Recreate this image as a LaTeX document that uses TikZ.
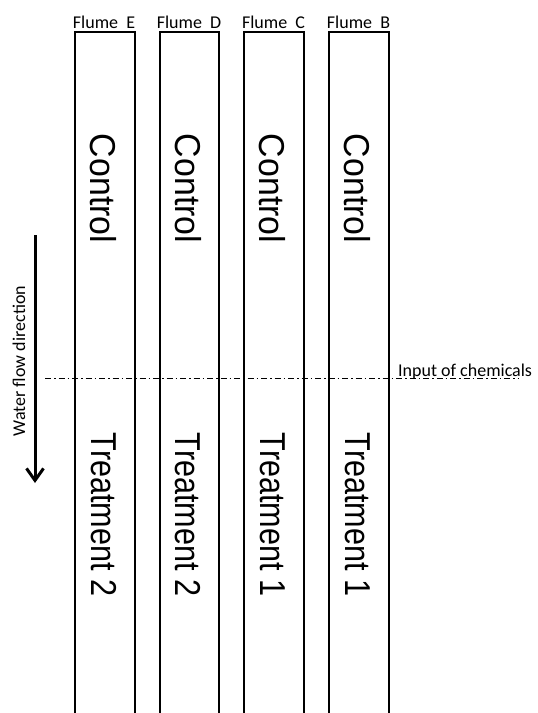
\documentclass[tikz,border=0pt]{standalone}
\usepackage{fontspec}
\usepackage{graphicx}
\setmainfont{Carlito}
\newfontfamily\bigfont{Liberation Sans}
\usetikzlibrary{arrows.meta}
\begin{document}
\begin{tikzpicture}[x=1pt,y=-1pt,
  flume/.style={line width=2pt},
  lbl/.style={font=\fontsize{18}{20}\selectfont, inner sep=0pt, anchor=base},
  big/.style={font=\bigfont\fontsize{36}{40}\selectfont, inner sep=0pt, rotate=-90},
  dashdot/.style={line width=1pt, dash pattern=on 6pt off 3pt on 1.5pt off 3pt}]
\useasboundingbox (0,0) rectangle (538,713);
\fill[white] (0,0) rectangle (538,713);
% flumes
\draw[flume] (75,720) -- (75,32) -- (134.5,32) -- (134.5,720);
\draw[flume] (159.5,720) -- (159.5,32) -- (219,32) -- (219,720);
\draw[flume] (244,720) -- (244,32) -- (303.5,32) -- (303.5,720);
\draw[flume] (329,720) -- (329,32) -- (388.5,32) -- (388.5,720);
% labels
\node[lbl] (labE) at (104,28) {Flume\ \ E};
\node[lbl] (labD) at (189,28) {Flume\ \ D};
\node[lbl] (labC) at (273.5,28) {Flume\ \ C};
\node[lbl] (labB) at (358.5,28) {Flume\ \ B};
% big texts
\node[big] (ctrlE) at (103.5,188.5) {\scalebox{0.94}[1]{Control}};
\node[big] (ctrlD) at (188,188.5) {\scalebox{0.94}[1]{Control}};
\node[big] (ctrlC) at (272.5,188.5) {\scalebox{0.94}[1]{Control}};
\node[big] (ctrlB) at (357.5,188.5) {\scalebox{0.94}[1]{Control}};
\node[big] (trtE) at (103.5,514.5) {\scalebox{0.85}[1]{Treatment 2}};
\node[big] (trtD) at (188,514.5) {\scalebox{0.85}[1]{Treatment 2}};
\node[big] (trtC) at (272.5,514.5) {\scalebox{0.85}[1]{Treatment 1}};
\node[big] (trtB) at (357.5,514.5) {\scalebox{0.85}[1]{Treatment 1}};
% input line
\coordinate (dl) at (45,378);
\coordinate (dr) at (518,378);
\draw[dashdot] (dl) -- (dr);
\node[lbl, anchor=base west] (input) at (398,376) {Input of chemicals};
% flow arrow
\coordinate (at) at (35,235);
\coordinate (ab) at (35,483);
\draw[line width=3pt, -{Straight Barb[length=12pt,width=17pt]}] (at) -- (ab);
\node[lbl, rotate=90] (water) at (25,361) {Water flow direction};
\end{tikzpicture}
\end{document}
